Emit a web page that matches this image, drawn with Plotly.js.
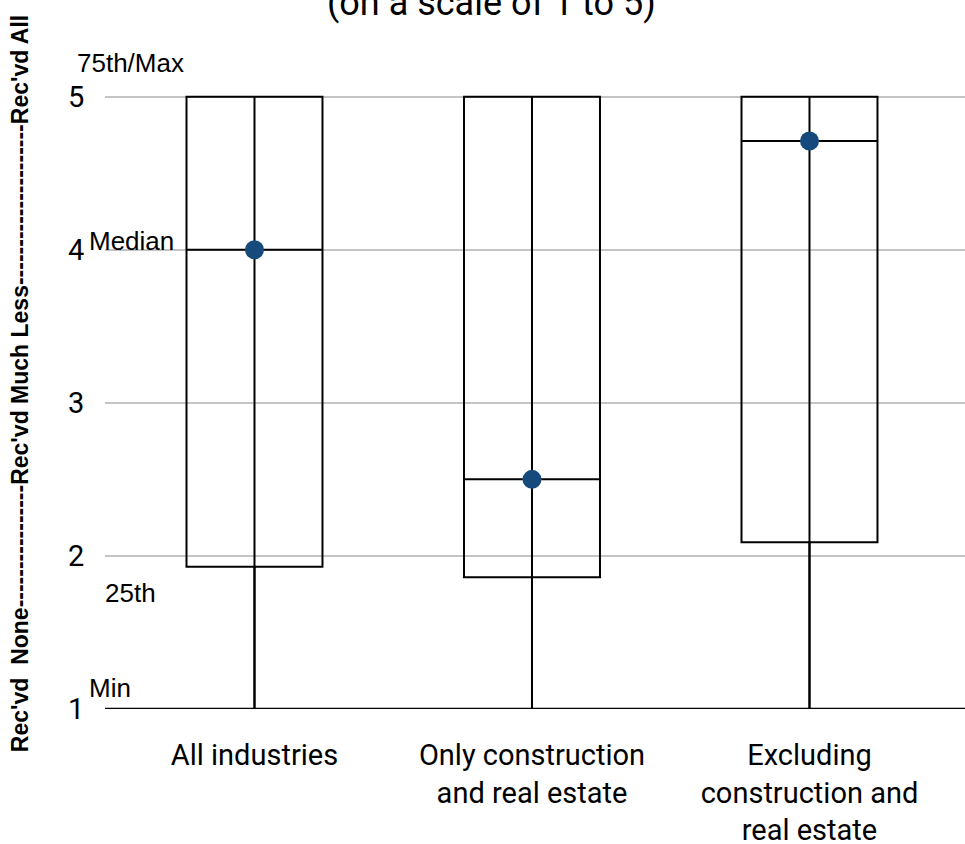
<!DOCTYPE html>
<html>
<head>
<meta charset="utf-8">
<script src="https://cdn.plot.ly/plotly-3.0.1.min.js"></script>
<style>
html,body{margin:0;padding:0;background:#fff;}
#chart{width:965px;height:844px;}
</style>
</head>
<body>
<div id="chart"></div>
<script>
// ---- data ----
const categories = ["All industries", "Only construction<br>and real estate", "Excluding<br>construction and<br>real estate"];
const minVals    = [1, 1, 1];
const q1Vals     = [1.93, 1.86, 2.09];
const medianVals = [4.0, 2.5, 4.71];
const q3Vals     = [5, 5, 5];
const maxVals    = [5, 5, 5];
const yTicks     = [1, 2, 3, 4, 5];

// ---- build traces ----
const boxTrace = {
  type: 'box',
  x: categories,
  q1: q1Vals,
  median: medianVals,
  q3: q3Vals,
  lowerfence: minVals,
  upperfence: maxVals,
  width: 0.49,
  whiskerwidth: 0,
  boxpoints: false,
  fillcolor: 'rgba(0,0,0,0)',
  line: {color: '#000', width: 2},
  hoverinfo: 'skip'
};

const lx = [], ly = [];
categories.forEach((c, i) => { lx.push(c, c, null); ly.push(minVals[i], maxVals[i], null); });
const centerLines = {
  type: 'scatter', mode: 'lines', x: lx, y: ly,
  line: {color: '#000', width: 2}, hoverinfo: 'skip', cliponaxis: false
};

const medianDots = {
  type: 'scatter', mode: 'markers', x: categories, y: medianVals,
  marker: {color: '#174a7c', size: 19}, hoverinfo: 'skip', cliponaxis: false
};

const yTitle = "Rec'vd&nbsp; None" + "-".repeat(16) + "Rec'vd Much Less" + "-".repeat(21) + "Rec'vd All";

const annFont = {family: 'Liberation Sans, Arial, sans-serif', size: 26, color: '#000'};

const layout = {
  width: 965, height: 844,
  margin: {l: 105, r: 0, t: 89, b: 135},
  paper_bgcolor: '#fff', plot_bgcolor: '#fff',
  showlegend: false, hovermode: false,
  font: {family: 'Roboto, sans-serif', color: '#000'},
  xaxis: {
    type: 'category',
    range: [-0.5387, 2.5604],
    showgrid: false, zeroline: false,
    showline: false,
    ticks: 'outside', ticklen: 20, tickcolor: 'rgba(0,0,0,0)',
    tickfont: {family: 'Roboto, sans-serif', size: 29, color: '#000'}
  },
  yaxis: {
    range: [1, 5.05],
    tickvals: yTicks,
    ticktext: yTicks.map(String),
    showgrid: true, gridcolor: '#c4c4c4', gridwidth: 2,
    zeroline: false, showline: false,
    ticks: 'outside', ticklen: 14, tickcolor: 'rgba(0,0,0,0)',
    tickfont: {family: 'Roboto, sans-serif', size: 29, color: '#000'}
  },
  shapes: [{
    type: 'line', xref: 'paper', yref: 'y', x0: 0, x1: 1, y0: 1, y1: 1,
    line: {color: '#000', width: 2.5}
  }],
  annotations: [
    {text: '(on a scale of 1 to 5)', xref: 'paper', yref: 'paper', x: 0.449, y: 1.138,
     xanchor: 'center', yanchor: 'middle', showarrow: false,
     font: {family: 'Roboto, sans-serif', size: 36, color: '#000'}},
    {text: yTitle, xref: 'paper', yref: 'paper', x: -0.0988, y: 0.524, textangle: -90,
     xanchor: 'center', yanchor: 'middle', showarrow: false,
     font: {family: 'Liberation Sans, Arial, sans-serif', size: 23, color: '#000', weight: 'bold'}},
    {text: '75th/Max', xref: 'paper', yref: 'paper', x: -0.035, y: 1.042, xanchor: 'left', yanchor: 'middle', showarrow: false, font: annFont},
    {text: 'Median', xref: 'paper', yref: 'paper', x: -0.021, y: 0.755, xanchor: 'left', yanchor: 'middle', showarrow: false, font: annFont},
    {text: '25th', xref: 'paper', yref: 'paper', x: -0.002, y: 0.187, xanchor: 'left', yanchor: 'middle', showarrow: false, font: annFont},
    {text: 'Min', xref: 'paper', yref: 'paper', x: -0.021, y: 0.034, xanchor: 'left', yanchor: 'middle', showarrow: false, font: annFont}
  ]
};

Plotly.newPlot('chart', [boxTrace, centerLines, medianDots], layout, {displayModeBar: false, staticPlot: true});
</script>
</body>
</html>
